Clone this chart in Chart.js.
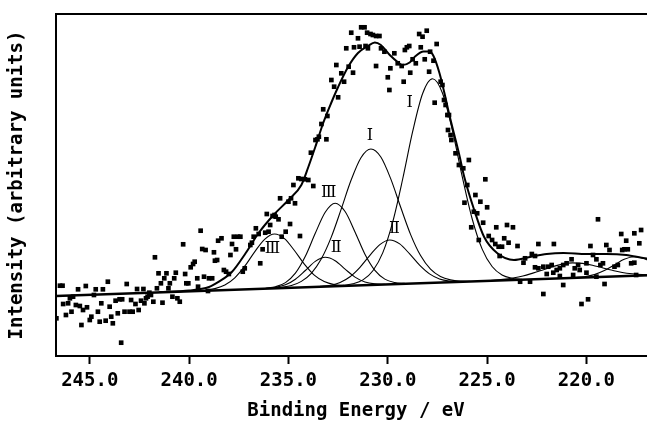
<!DOCTYPE html>
<html>
<head>
<meta charset="utf-8">
<script src="https://cdn.jsdelivr.net/npm/chart.js@4.4.1/dist/chart.umd.min.js"></script>
<style>
  html, body { margin: 0; padding: 0; background: #fff; overflow: hidden; width: 647px; height: 422px; }
  canvas { position: absolute; left: 0; top: 0; }
</style>
</head>
<body>
<canvas id="c" width="660" height="422"></canvas>
<script>
// ---- data (x: binding energy / eV, y: arbitrary intensity) ----
const energyTicks = [245, 240, 235, 230, 225, 220];

const pointE = [
246.68,246.50,246.37,246.34,246.20,246.09,246.00,245.92,245.84,245.70,245.59,245.50,245.42,245.34,245.20,245.14,245.00,244.92,244.79,244.70,
244.59,244.50,244.42,244.34,244.20,244.09,244.00,243.92,243.84,243.70,243.59,243.50,243.37,243.42,243.25,243.14,243.00,242.92,242.84,242.70,
242.62,242.54,242.42,242.30,242.25,242.17,242.09,242.00,241.92,241.80,241.72,241.62,241.54,241.42,241.34,241.25,241.14,241.04,240.97,240.84,
240.75,240.67,240.59,240.47,240.30,240.20,240.14,240.04,239.92,239.80,239.72,239.59,239.55,239.42,239.34,239.17,239.25,239.05,239.00,238.84,
238.75,238.70,238.59,238.54,238.37,238.25,238.14,238.00,237.92,237.84,237.75,237.64,237.54,237.42,237.30,237.20,236.92,236.84,236.75,236.64,
236.50,236.42,236.30,236.17,236.09,236.00,235.92,235.80,235.70,235.64,235.50,235.42,235.34,235.14,235.00,234.87,234.92,234.67,234.75,234.42,
234.50,234.35,234.17,234.00,233.75,233.87,233.64,233.54,233.47,233.34,233.25,233.09,233.04,232.84,232.70,232.59,232.50,232.34,232.20,232.09,
231.97,231.84,231.75,231.70,231.50,231.42,231.34,231.17,231.12,231.04,231.00,230.87,230.75,230.59,230.42,230.59,230.34,230.17,230.00,229.92,
229.87,229.67,229.50,229.30,229.20,229.14,229.04,228.92,228.87,228.75,228.59,228.42,228.25,228.34,228.14,228.04,227.92,227.87,227.70,227.64,
227.54,227.34,227.25,227.17,227.09,227.00,226.92,226.97,226.84,226.80,226.59,226.42,226.20,225.92,226.00,225.09,226.14,225.59,225.34,225.00,
225.67,225.50,225.80,225.20,224.54,224.00,223.70,225.42,224.92,224.75,224.59,224.42,224.25,224.14,223.92,224.37,223.47,223.09,222.75,222.59,
222.42,221.64,223.17,222.59,222.42,222.17,221.92,221.75,221.67,221.50,221.34,221.17,221.00,220.75,220.59,220.42,220.34,220.00,219.80,219.42,
219.67,219.50,219.30,219.17,219.00,218.84,218.59,218.42,218.25,218.20,218.09,217.92,218.00,217.75,217.59,217.59,217.25,217.34,217.50,223.34,
222.84,222.17,221.17,220.25,219.92,219.09,222.00,221.34,220.67,220.00,219.50
];
const pointI = [
37.7,70.3,70.3,52.0,41.0,52.7,57.7,44.3,59.3,51.0,66.7,50.0,31.0,46.0,70.0,48.7,36.0,39.3,61.0,66.7,
44.3,34.3,52.7,66.7,35.3,74.3,49.3,39.3,32.7,55.3,42.7,56.7,56.7,13.3,44.3,72.0,44.3,56.0,44.3,52.0,
67.0,46.0,55.3,67.0,52.7,57.7,59.3,63.3,61.0,54.3,98.7,67.7,82.7,72.7,53.3,77.7,82.7,67.7,72.7,59.3,
77.7,83.3,57.7,54.3,111.7,82.0,72.7,72.7,88.7,92.0,94.3,77.7,69.3,125.3,107.0,106.0,79.3,65.0,77.7,77.7,
103.7,95.3,96.0,115.3,117.7,86.0,84.3,82.0,101.0,112.0,119.3,106.7,119.3,119.3,84.3,87.7,111.0,113.3,119.3,127.7,
122.0,92.7,106.7,123.3,142.0,124.3,131.0,140.0,141.0,139.3,136.7,157.7,119.3,124.3,154.3,157.7,132.0,152.7,171.0,120.0,
177.7,177.0,176.7,176.0,170.0,203.3,216.0,216.7,219.3,232.0,246.7,216.7,240.0,276.0,269.3,291.0,258.7,282.7,274.3,307.7,
289.3,323.3,283.3,308.7,317.7,309.3,328.7,328.7,310.0,323.3,307.7,322.0,321.0,320.0,320.0,290.0,307.7,304.3,278.7,266.0,
287.7,302.7,292.7,290.0,274.3,306.0,308.7,310.0,283.3,296.7,292.7,322.0,319.3,308.7,296.7,325.3,284.3,304.3,295.3,253.3,
312.0,274.3,271.0,256.0,251.0,241.0,241.0,226.0,221.0,216.0,202.7,191.0,187.7,196.0,171.0,176.7,153.3,161.0,154.3,148.7,
144.3,142.7,128.7,133.3,128.7,131.0,128.7,116.0,120.0,116.0,112.0,109.3,109.3,117.7,113.3,100.0,110.0,97.7,102.0,100.0,
112.0,112.0,93.3,88.7,87.7,89.3,89.3,91.0,83.3,86.0,87.7,91.0,92.7,96.7,87.7,91.0,86.0,92.7,110.0,136.7,
101.0,96.7,91.0,92.7,111.0,106.0,89.3,91.0,122.0,106.0,106.7,106.7,115.3,92.7,93.3,122.7,126.0,112.7,81.0,74.3,
74.3,62.0,71.0,52.0,56.7,72.0,82.0,80.0,81.0,83.3,79.3
];

// straight background line
const baselineE = [246.7, 216.5];
const baselineI = [60.0, 81.0];

// overall fitted envelope
const envelopeE = [241.5,240.0,239.0,238.5,237.85,237.15,236.5,235.75,235.0,234.35,234.0,233.65,233.25,232.85,232.5,232.0,231.5,231.0,230.65,230.35,
229.9,229.5,229.25,228.9,228.6,228.2,227.9,227.7,227.4,227.15,226.9,226.65,226.4,226.15,225.65,225.15,224.5,223.65,222.85,222.0,221.15,220.0,219.0,218.0,217.15,216.5];
const envelopeI = [64.0,65.5,69.0,74.3,84.0,103.0,123.0,141.0,156.0,171.0,189.0,209.0,233.0,253.0,269.0,289.0,303.0,310.0,313.5,311.0,
301.0,294.0,291.0,293.5,300.0,304.5,304.5,300.0,283.0,263.0,241.0,221.0,201.0,179.0,146.0,119.0,103.0,96.0,99.0,102.0,103.0,102.0,102.0,101.0,98.0,96.0];

// component peaks
const peak1E = [232.25,231.75,231.25,230.75,230.25,229.75,229.25,228.75,228.25,227.75,227.25,226.75,226.25,225.75,225.25,224.75,224.25,223.75,223.25];
const peak1I = [70.5,72.2,76.1,85.3,103.4,134.2,177.0,224.3,262.3,277.2,263.0,225.7,179.1,137.0,106.9,89.5,81.0,77.8,76.8];

const peak2E = [235.85,235.35,234.85,234.35,233.85,233.35,232.85,232.35,231.85,231.35,230.85,230.35,229.85,229.35,228.85,228.35,227.85,227.35,226.85,226.35,225.85];
const peak2I = [67.7,68.7,70.5,74.6,82.6,96.9,118.6,146.6,175.7,198.3,207.0,199.0,177.1,148.7,121.4,100.4,86.8,79.5,76.1,74.9,74.7];

const peak3E = [236.15,235.65,235.15,234.65,234.15,233.65,233.15,232.65,232.15,231.65,231.15,230.65,230.15,229.65,229.15];
const peak3I = [67.7,69.3,73.4,82.8,99.7,122.7,143.8,152.8,144.5,124.1,101.8,85.6,76.9,73.5,72.6];

const peak4E = [236.15,235.65,235.15,234.65,234.15,233.65,233.15,232.65,232.15,231.65,231.15,230.65,230.15];
const peak4I = [67.5,68.6,71.2,76.8,85.5,94.6,98.7,95.3,86.9,78.9,74.0,72.1,71.7];

const peak5E = [233.4,232.9,232.4,231.9,231.4,230.9,230.4,229.9,229.4,228.9,228.4,227.9,227.4,226.9,226.4];
const peak5I = [69.6,70.8,73.6,79.3,88.7,100.7,111.4,116.0,112.1,102.1,90.8,82.1,77.1,75.0,74.4];

const peak6E = [239.2,238.7,238.2,237.7,237.2,236.7,236.2,235.7,235.2,234.7,234.2,233.7,233.2,232.7,232.2];
const peak6I = [65.7,67.4,71.0,78.2,89.8,104.2,116.7,122.0,117.4,105.5,91.9,80.9,74.5,71.5,70.6];

const peak7E = [225.2,224.7,224.2,223.7,223.2,222.7,222.2,221.7,221.2,220.7,220.2,219.7,219.2,218.7,218.2,217.7,217.2,216.7,216.2];
const peak7I = [75.1,75.7,76.6,78.0,80.0,82.9,86.1,89.4,91.9,93.1,92.6,90.8,88.2,85.7,83.5,82.2,81.5,81.3,81.4];

const peak8E = [220.6,220.1,219.6,219.1,218.6,218.1,217.6,217.1,216.6];
const peak8I = [78.3,79.3,81.4,85.4,91.0,96.7,99.2,97.4,92.4];

// peak annotations
const labelText = ['\u2160', '\u2160', '\u2162', '\u2161', '\u2161', '\u2162'];
const labelE = [228.9, 230.9, 232.97, 232.6, 229.67, 235.8];
const labelI = [253.0, 220.0, 163.3, 108.5, 126.8, 107.0];

// ---- build chart ----
const xy = (xs, ys) => xs.map((v, i) => ({x: v, y: ys[i]}));
const curve = (xs, ys, w) => ({
  type: 'line', data: xy(xs, ys), showLine: true, borderColor: '#000', borderWidth: w,
  pointRadius: 0, fill: false, cubicInterpolationMode: 'monotone', order: 1
});

const decor = {
  id: 'decor',
  afterDatasetsDraw(chart) {
    const {ctx, chartArea: a, scales: {x, y}} = chart;
    ctx.save();
    ctx.strokeStyle = '#000';
    ctx.lineWidth = 2;
    ctx.beginPath();
    ctx.moveTo(a.left - 1, a.top);
    ctx.lineTo(a.right + 2, a.top);
    ctx.stroke();
    ctx.fillStyle = '#000';
    ctx.font = '16px "DejaVu Serif"';
    ctx.textAlign = 'center';
    ctx.textBaseline = 'middle';
    labelText.forEach((t, i) => ctx.fillText(t, x.getPixelForValue(labelE[i]), y.getPixelForValue(labelI[i])));
    ctx.restore();
  }
};

const monoFont = {family: '"DejaVu Sans Mono", monospace', size: 19, weight: 'bold', lineHeight: 1};

new Chart(document.getElementById('c'), {
  type: 'scatter',
  data: {
    datasets: [
      curve(baselineE, baselineI, 2.4),
      curve(envelopeE, envelopeI, 2),
      curve(peak1E, peak1I, 1.1),
      curve(peak2E, peak2I, 1.1),
      curve(peak3E, peak3I, 1.1),
      curve(peak4E, peak4I, 1.1),
      curve(peak5E, peak5I, 1.1),
      curve(peak6E, peak6I, 1.1),
      curve(peak7E, peak7I, 1.1),
      curve(peak8E, peak8I, 1.1),
      {
        data: xy(pointE, pointI), showLine: false, pointStyle: 'rect', pointRadius: 3.3,
        backgroundColor: '#000', borderWidth: 0, order: 0
      }
    ]
  },
  options: {
    responsive: false,
    animation: false,
    events: [],
    layout: {padding: {top: 14, right: 0, bottom: 0, left: 0}},
    plugins: {legend: {display: false}, tooltip: {enabled: false}},
    scales: {
      x: {
        type: 'linear', reverse: true, min: 216.5, max: 246.7,
        afterBuildTicks: (s) => { s.ticks = energyTicks.map(v => ({value: v})); },
        afterFit: (s) => { s.height = 66; },
        ticks: {color: '#000', font: monoFont, padding: 8, maxRotation: 0, autoSkip: false,
                callback: (v) => Number(v).toFixed(1)},
        grid: {display: true, drawOnChartArea: false, drawTicks: true, tickLength: 8, tickWidth: 2, tickColor: '#000', color: '#000'},
        border: {display: true, color: '#000', width: 2},
        title: {display: true, text: 'Binding Energy / eV', color: '#000', font: monoFont, padding: {top: 0, bottom: 1.5}}
      },
      y: {
        type: 'linear', min: 0, max: 342,
        afterFit: (s) => { s.width = 56; },
        ticks: {display: false},
        grid: {display: false},
        border: {display: true, color: '#000', width: 2},
        title: {display: true, text: 'Intensity (arbitrary units)', color: '#000', font: monoFont, padding: {top: 7.5, bottom: 0}}
      }
    }
  },
  plugins: [decor]
});
</script>
</body>
</html>
